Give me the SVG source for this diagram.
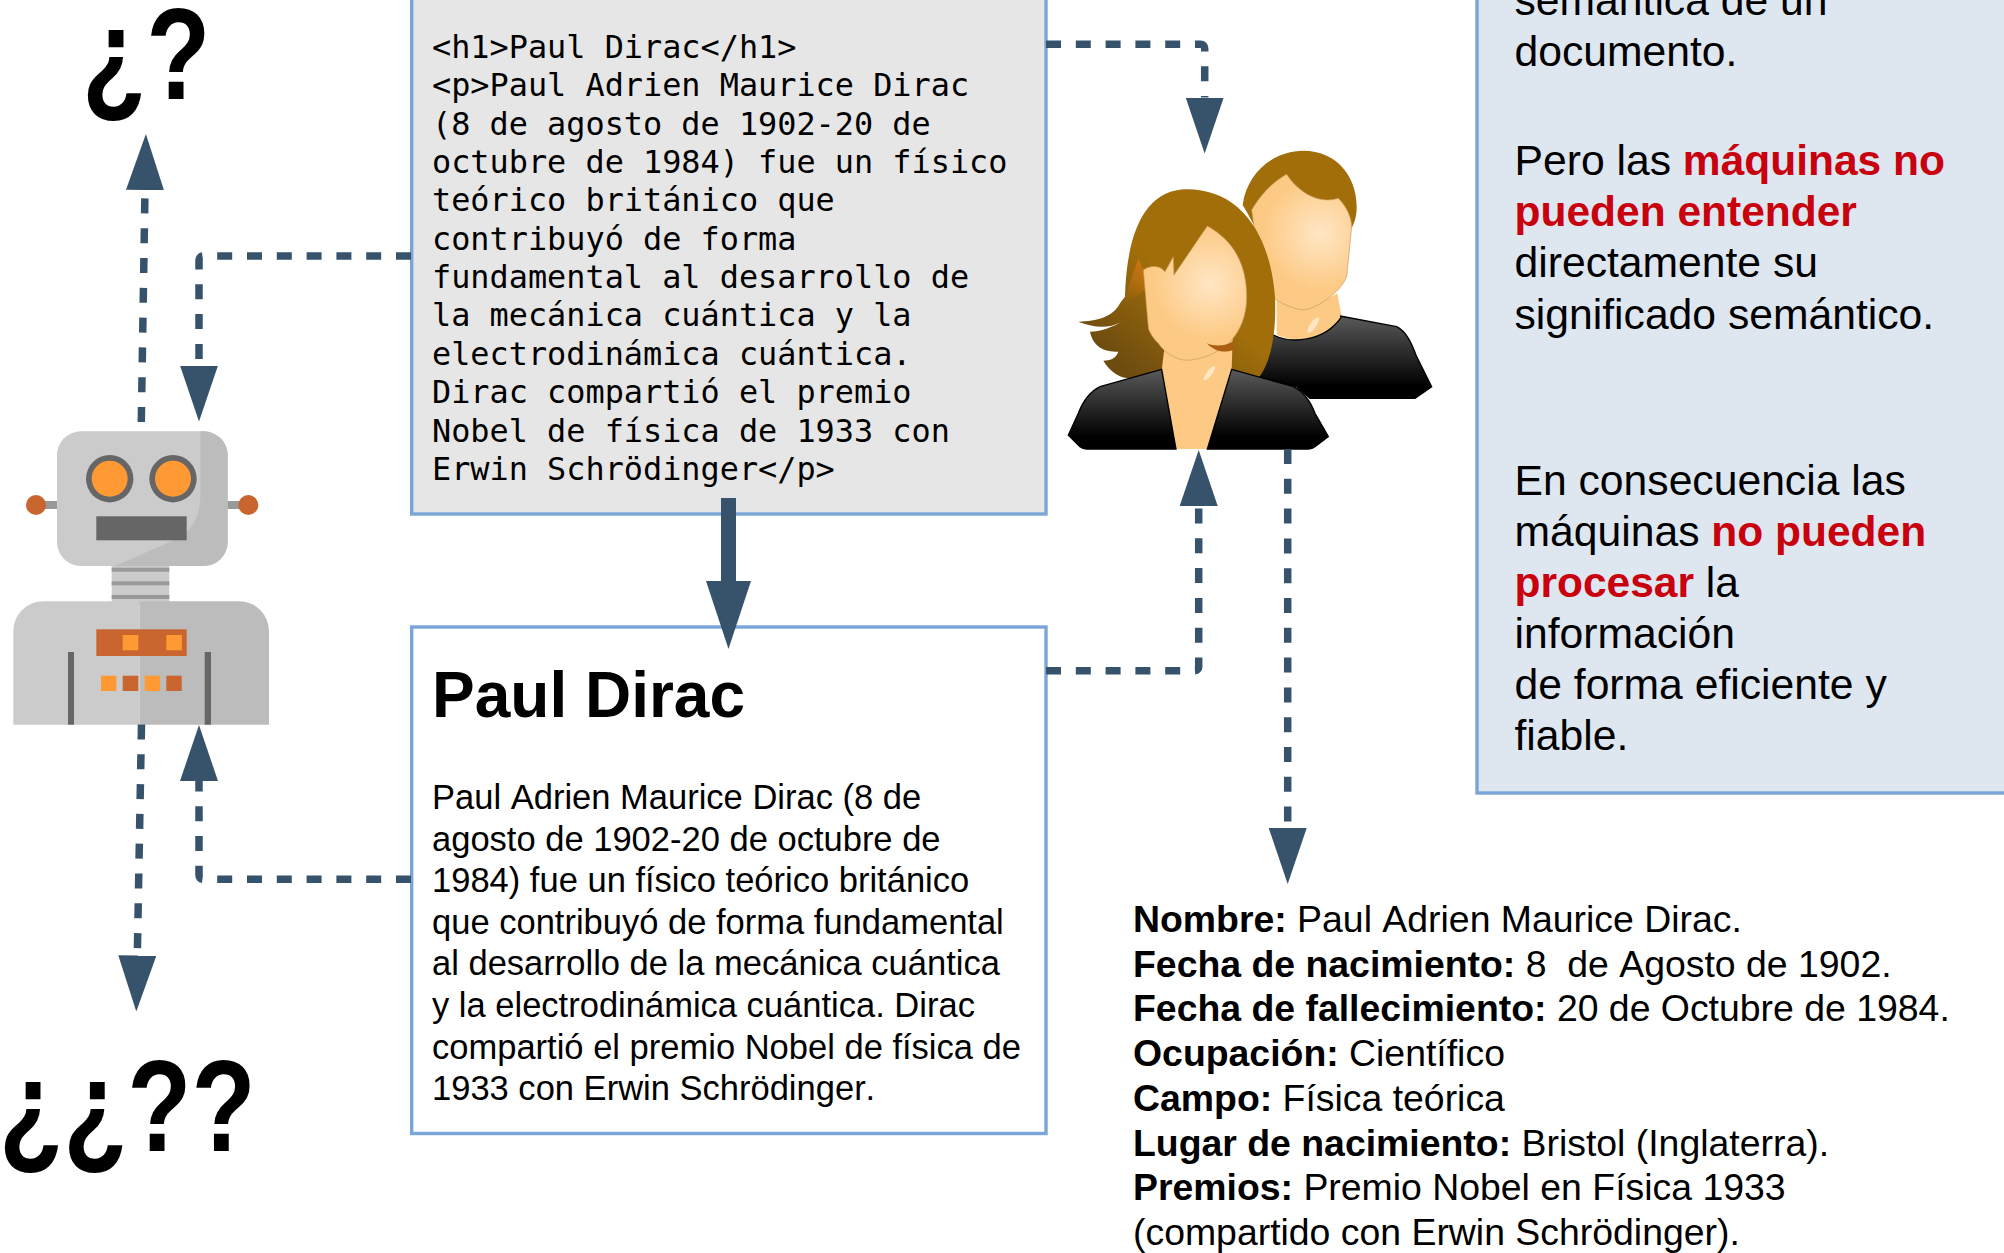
<svg xmlns="http://www.w3.org/2000/svg" width="2004" height="1253" viewBox="0 0 2004 1253">
<style>
.box{stroke:#7aa5d6;stroke-width:3.4}
text{font-family:"Liberation Sans",Arial,sans-serif;fill:#000;white-space:pre;font-kerning:none}
.mono{font-family:"DejaVu Sans Mono",monospace;font-size:31.86px}
.body{font-size:34.53px}
.side{font-size:42.67px}
.info{font-size:37.4px}
.b{font-weight:bold}
.r{font-weight:bold;fill:#c9000d;font-size:42.5px}
.q{font-weight:bold;font-size:105px}
.con{fill:none;stroke:#37536b;stroke-width:7.5;stroke-dasharray:15 14.8}
.g1{fill:#cbcbcb}.g2{fill:#bcbcbc}.g3{fill:#666}.g4{fill:#999}.o1{fill:#ff9933}.o2{fill:#c96630}
</style>
<defs>
<marker id="ah" markerUnits="userSpaceOnUse" viewBox="0 0 56 38" markerWidth="56" markerHeight="38" refX="0" refY="19" orient="auto"><path d="M0,0L56,19L0,38z" fill="#37536b"/></marker>
<marker id="ahb" markerUnits="userSpaceOnUse" viewBox="0 0 68 45" markerWidth="68" markerHeight="45" refX="0" refY="22.5" orient="auto"><path d="M0,0L68,22.5L0,45z" fill="#37536b"/></marker>
<linearGradient id="jk" x1="0" y1="0" x2="0" y2="1"><stop offset="0" stop-color="#5a5a5a"/><stop offset=".85" stop-color="#000"/></linearGradient>
<radialGradient id="fw" gradientUnits="userSpaceOnUse" cx="480" cy="460" r="170"><stop offset="0" stop-color="#ffe6c4"/><stop offset="1" stop-color="#fdca85"/></radialGradient>
<radialGradient id="fm" gradientUnits="userSpaceOnUse" cx="810" cy="310" r="170"><stop offset="0" stop-color="#ffe6c4"/><stop offset="1" stop-color="#fdca85"/></radialGradient>
<linearGradient id="hl" gradientUnits="userSpaceOnUse" x1="150" y1="650" x2="340" y2="420"><stop offset="0" stop-color="#6e4c10"/><stop offset="1" stop-color="#a16e0a"/></linearGradient>
<linearGradient id="hh" gradientUnits="userSpaceOnUse" x1="275" y1="400" x2="225" y2="520"><stop offset="0" stop-color="#c8720e"/><stop offset="1" stop-color="#c8720e" stop-opacity="0"/></linearGradient>
</defs>
<rect width="2004" height="1253" fill="#fff"/>

<g id="robot">
<rect class="g4" x="45" y="501" width="183" height="8"/>
<rect class="g4" x="227" y="501" width="12" height="8"/>
<circle class="o2" cx="36" cy="505" r="10"/>
<circle class="o2" cx="248.3" cy="505" r="10"/>
<rect class="g1" x="111.7" y="560" width="57.6" height="45"/>
<rect class="g4" x="111.7" y="567.7" width="57.6" height="4"/>
<rect class="g4" x="111.7" y="581.3" width="57.6" height="4"/>
<rect class="g4" x="111.7" y="595" width="57.6" height="4"/>
<rect class="g1" x="57" y="431.3" width="170.7" height="134.7" rx="24"/>
<path class="g2" d="M200.5,431.3H203.7a24,24 0 0 1 24,24V542a24,24 0 0 1-24,24H115L173,540.5Q200,530 200.5,495Z"/>
<circle class="g3" cx="109.7" cy="478.7" r="23.7"/>
<circle class="o1" cx="109.7" cy="478.7" r="18"/>
<circle class="g3" cx="173" cy="478.7" r="23.7"/>
<circle class="o1" cx="173" cy="478.7" r="18"/>
<rect class="g3" x="96.3" y="516.3" width="90.4" height="24"/>
<path class="g1" d="M13.3,724.7V631.3a30,30 0 0 1 30-30H139.7V724.7Z"/>
<path class="g2" d="M139.7,601.3H239a30,30 0 0 1 30,30V724.7H139.7Z"/>
<rect class="o2" x="96.3" y="629.3" width="90.4" height="26.7"/>
<rect class="o1" x="122.7" y="635" width="15.6" height="15.3"/>
<rect class="o1" x="166.3" y="635" width="15.6" height="15.3"/>
<rect class="o1" x="101" y="675.7" width="15.4" height="15.3"/>
<rect class="o2" x="122.7" y="675.7" width="15.6" height="15.3"/>
<rect class="o1" x="144.7" y="675.7" width="15.4" height="15.3"/>
<rect class="o2" x="166.3" y="675.7" width="15.4" height="15.3"/>
<rect class="g3" x="68" y="652" width="6" height="72.7"/>
<rect class="g3" x="204.7" y="652" width="6.3" height="72.7"/>
</g>

<g id="people" transform="translate(1050,130) scale(.33333)">
<path fill="#a16e0a" d="M578,225C590,130 670,62 760,62C860,62 922,140 920,235C920,260 912,280 905,295L870,300L620,300L590,245Z"/>
<path fill="#fdca85" d="M680,500C720,530 800,530 862,490L875,560C850,610 760,650 680,615Z"/>
<path fill="url(#fm)" stroke="#c99a5c" stroke-width="2" d="M605,240C640,180 680,150 710,133C740,180 800,225 865,205C895,235 905,270 905,290L890,440C870,490 800,535 760,540C720,535 680,515 640,480Z"/>
<ellipse cx="790" cy="585" rx="9" ry="28" transform="rotate(35 790 585)" fill="#ffe6c4"/>
<path fill="url(#jk)" stroke="#000" stroke-width="4" d="M870,558L1040,590C1070,605 1085,640 1100,680L1145,770L1095,805L780,805L740,770L625,740L670,615C720,640 820,640 875,560Z"/>

<path fill="url(#hl)" d="M225,500C230,300 290,178 410,178C570,178 660,310 675,500C680,620 660,700 625,745L240,745C210,745 180,725 160,692C180,690 195,690 205,665C160,665 130,650 120,605C150,605 190,590 215,575C170,600 125,590 85,575C140,575 190,560 210,520Z"/>
<path fill="url(#hh)" d="M265,385L280,420L285,480L215,530Z"/>
<path fill="#fdca85" d="M345,640L335,722L378,957H472L545,718L548,620Z"/>
<path fill="url(#fw)" stroke="#c99a5c" stroke-width="2" d="M280,420C300,405 330,405 345,425L370,380L372,435L472,288C530,320 590,380 590,500C590,560 570,600 545,630C510,670 440,695 400,690C375,685 345,670 325,640C305,620 295,600 295,590Z"/>
<path fill="#a95e10" d="M470,640C495,650 525,650 552,632L550,660C520,670 495,665 470,640Z"/>
<ellipse cx="478" cy="730" rx="8" ry="26" transform="rotate(38 478 730)" fill="#ffe6c4"/>
<path fill="url(#jk)" stroke="#000" stroke-width="4" d="M335,718L150,770C120,785 100,810 85,850L55,915L90,950Q98,957 110,957H378Z"/>
<path fill="url(#jk)" stroke="#000" stroke-width="4" d="M545,718L730,770C760,785 780,810 795,850L835,920L795,950Q787,957 775,957H472Z"/>
</g>

<g id="html-box">
<rect class="box" x="411.7" y="-6" width="634.3" height="520" fill="#e6e6e6"/>
<text class="mono" x="432"><tspan x="432" y="58">&lt;h1&gt;Paul Dirac&lt;/h1&gt;</tspan><tspan x="432" y="96.35">&lt;p&gt;Paul Adrien Maurice Dirac</tspan><tspan x="432" y="134.7">(8 de agosto de 1902-20 de</tspan><tspan x="432" y="173.05">octubre de 1984) fue un físico</tspan><tspan x="432" y="211.4">teórico británico que</tspan><tspan x="432" y="249.75">contribuyó de forma</tspan><tspan x="432" y="288.1">fundamental al desarrollo de</tspan><tspan x="432" y="326.45">la mecánica cuántica y la</tspan><tspan x="432" y="364.8">electrodinámica cuántica.</tspan><tspan x="432" y="403.15">Dirac compartió el premio</tspan><tspan x="432" y="441.5">Nobel de física de 1933 con</tspan><tspan x="432" y="479.85">Erwin Schrödinger&lt;/p&gt;</tspan></text>
</g>

<g id="page-box">
<rect class="box" x="411.7" y="627" width="634.3" height="506.5" fill="#fff"/>
<text class="b" x="432" y="717" font-size="64">Paul Dirac</text>
<text class="body"><tspan x="432" y="809">Paul Adrien Maurice Dirac (8 de</tspan><tspan x="432" y="850.6">agosto de 1902-20 de octubre de</tspan><tspan x="432" y="892.2">1984) fue un físico teórico británico</tspan><tspan x="432" y="933.8">que contribuyó de forma fundamental</tspan><tspan x="432" y="975.4">al desarrollo de la mecánica cuántica</tspan><tspan x="432" y="1017">y la electrodinámica cuántica. Dirac</tspan><tspan x="432" y="1058.6">compartió el premio Nobel de física de</tspan><tspan x="432" y="1100.2">1933 con Erwin Schrödinger.</tspan></text>
</g>

<g id="side-note">
<rect class="box" x="1477" y="-6" width="560" height="799" fill="#dee6f0"/>
<text class="side"><tspan x="1514.5" y="15">semántica de un</tspan><tspan x="1514.5" y="66">documento.</tspan><tspan x="1514.5" y="174.7">Pero las <tspan class="r">máquinas no</tspan></tspan><tspan x="1514.5" y="226" class="r">pueden entender</tspan><tspan x="1514.5" y="277">directamente su</tspan><tspan x="1514.5" y="328.5">significado semántico.</tspan><tspan x="1514.5" y="495">En consecuencia las</tspan><tspan x="1514.5" y="546">máquinas <tspan class="r">no pueden</tspan></tspan><tspan x="1514.5" y="597" class="r">procesar<tspan style="font-weight:normal;fill:#000"> la</tspan></tspan><tspan x="1514.5" y="648">información</tspan><tspan x="1514.5" y="699">de forma eficiente y</tspan><tspan x="1514.5" y="750">fiable.</tspan></text>
</g>

<g id="info">
<text class="info"><tspan x="1133" y="932"><tspan class="b">Nombre:</tspan> Paul Adrien Maurice Dirac.</tspan><tspan x="1133" y="976.7"><tspan class="b">Fecha de nacimiento:</tspan> 8  de Agosto de 1902.</tspan><tspan x="1133" y="1021.4"><tspan class="b">Fecha de fallecimiento:</tspan> 20 de Octubre de 1984.</tspan><tspan x="1133" y="1066.1"><tspan class="b">Ocupación:</tspan> Científico</tspan><tspan x="1133" y="1110.8"><tspan class="b">Campo:</tspan> Física teórica</tspan><tspan x="1133" y="1155.5"><tspan class="b">Lugar de nacimiento:</tspan> Bristol (Inglaterra).</tspan><tspan x="1133" y="1200.2"><tspan class="b">Premios:</tspan> Premio Nobel en Física 1933</tspan><tspan x="1133" y="1244.9">(compartido con Erwin Schrödinger).</tspan></text>
</g>

<g id="q1"><text class="q" transform="translate(82,98.7) scale(1,1.24)">¿?</text></g>
<g id="q2"><text class="q" transform="translate(-1,1150.5) scale(1,1.24)">¿¿??</text></g>

<g id="connectors">
<path class="con" marker-end="url(#ah)" d="M141.3,422L145,190"/>
<path class="con" marker-end="url(#ah)" d="M411,256H203a4,4 0 0 0-4,4V365.5"/>
<path class="con" marker-end="url(#ah)" d="M141.5,724.5L137.3,955.5"/>
<path class="con" marker-end="url(#ah)" d="M411,879.3H203a4,4 0 0 1-4-4V781"/>
<path fill="none" stroke="#37536b" stroke-width="15" marker-end="url(#ahb)" d="M728.5,498V581"/>
<path class="con" marker-end="url(#ah)" d="M1046,44.3H1200.7a4,4 0 0 1 4,4V97.5"/>
<path class="con" marker-end="url(#ah)" d="M1046,670.7H1194.7a4,4 0 0 0 4-4V506"/>
<path class="con" marker-end="url(#ah)" d="M1287.7,449V828"/>
</g>
</svg>
